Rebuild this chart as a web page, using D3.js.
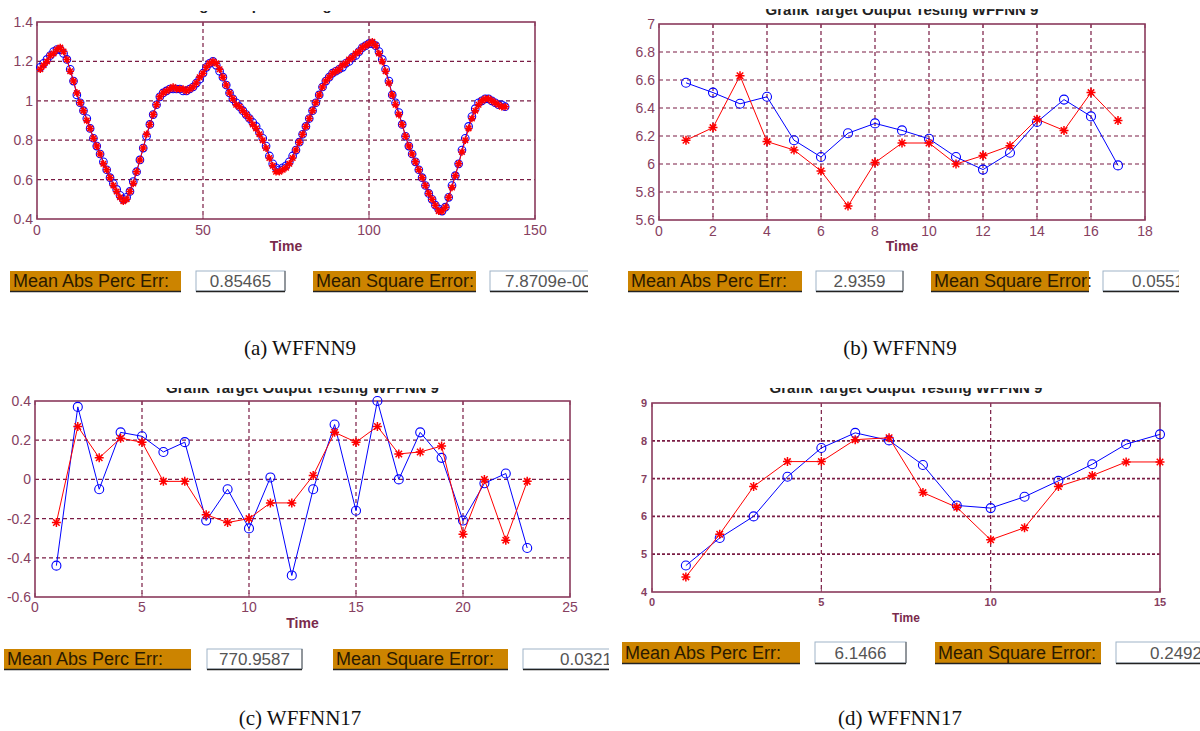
<!DOCTYPE html>
<html>
<head>
<meta charset="utf-8">
<script src="https://cdn.jsdelivr.net/npm/d3@7"></script>
<style>
  body { margin: 0; background: #fff; }
  svg { display: block; }
  .tick-label { font-family: "Liberation Sans", Arial, sans-serif; fill: #86405f; }
  .box-label { font-family: "Liberation Sans", Arial, sans-serif; fill: #2a1a00; }
  .caption { font-family: "Liberation Serif", "Times New Roman", serif; fill: #111; }
</style>
</head>
<body>
<div id="chart"></div>
<script>
// ---- data ----
// (a) WFFNN9, t = 1..141
var aTarget = [
  1.17,1.19,1.21,1.23,1.25,1.26,1.26,1.24,1.21,1.16,
  1.10,1.03,0.99,0.95,0.91,0.86,0.81,0.77,0.73,0.69,
  0.65,0.61,0.58,0.55,0.52,0.50,0.51,0.54,0.59,0.64,
  0.70,0.76,0.82,0.88,0.93,0.98,1.02,1.04,1.05,1.06,
  1.06,1.06,1.06,1.05,1.05,1.06,1.07,1.09,1.11,1.14,
  1.17,1.19,1.20,1.18,1.15,1.12,1.08,1.04,1.01,0.99,
  0.97,0.95,0.93,0.91,0.89,0.87,0.84,0.81,0.77,0.72,
  0.68,0.66,0.65,0.66,0.67,0.69,0.72,0.75,0.79,0.83,
  0.87,0.91,0.95,0.99,1.03,1.07,1.10,1.12,1.14,1.15,
  1.16,1.17,1.19,1.20,1.22,1.23,1.25,1.27,1.28,1.29,
  1.29,1.28,1.25,1.21,1.16,1.10,1.03,0.99,0.94,0.88,
  0.82,0.77,0.73,0.69,0.65,0.61,0.57,0.53,0.50,0.47,
  0.45,0.44,0.46,0.51,0.57,0.62,0.68,0.75,0.81,0.87,
  0.92,0.96,0.99,1.00,1.01,1.01,1.00,0.99,0.98,0.98,
  0.97
];
var aOutput = [
  1.16,1.18,1.20,1.23,1.24,1.26,1.27,1.25,1.21,1.15,
  1.10,1.04,0.99,0.95,0.90,0.86,0.81,0.77,0.73,0.68,
  0.65,0.61,0.57,0.54,0.51,0.49,0.50,0.54,0.58,0.64,
  0.70,0.76,0.83,0.88,0.93,0.98,1.02,1.04,1.05,1.06,
  1.07,1.06,1.06,1.06,1.05,1.06,1.07,1.09,1.12,1.14,
  1.17,1.19,1.20,1.19,1.16,1.12,1.08,1.04,1.01,0.98,
  0.97,0.95,0.93,0.91,0.88,0.86,0.83,0.80,0.76,0.71,
  0.67,0.64,0.64,0.65,0.66,0.68,0.71,0.75,0.79,0.83,
  0.87,0.91,0.95,0.99,1.03,1.07,1.10,1.12,1.14,1.15,
  1.16,1.18,1.19,1.21,1.22,1.24,1.25,1.27,1.28,1.29,
  1.30,1.28,1.24,1.20,1.15,1.09,1.03,0.98,0.93,0.88,
  0.82,0.77,0.73,0.69,0.65,0.61,0.57,0.53,0.50,0.47,
  0.44,0.44,0.46,0.51,0.56,0.62,0.68,0.74,0.80,0.86,
  0.91,0.95,0.98,1.00,1.01,1.01,1.00,0.99,0.98,0.97,
  0.97
];
var aXTicks = [0, 50, 100, 150];
var aYTicks = [0.4, 0.6, 0.8, 1, 1.2, 1.4];

// (b) WFFNN9, t = 1..17
var bTarget = [6.58,6.51,6.43,6.48,6.17,6.05,6.22,6.29,6.24,6.18,6.05,5.96,6.08,6.30,6.46,6.34,5.99];
var bOutput = [6.17,6.26,6.63,6.16,6.10,5.95,5.70,6.01,6.15,6.15,6.00,6.06,6.13,6.32,6.24,6.51,6.31];
var bXTicks = [0, 2, 4, 6, 8, 10, 12, 14, 16, 18];
var bYTicks = [5.6, 5.8, 6, 6.2, 6.4, 6.6, 6.8, 7];

// (c) WFFNN17, t = 1..23
var cTarget = [-0.44,0.37,-0.05,0.24,0.22,0.14,0.19,-0.21,-0.05,-0.25,0.01,-0.49,-0.05,0.28,-0.16,0.40,0.00,0.24,0.11,-0.21,-0.02,0.03,-0.35];
var cOutput = [-0.22,0.27,0.11,0.21,0.19,-0.01,-0.01,-0.18,-0.22,-0.20,-0.12,-0.12,0.02,0.24,0.19,0.27,0.13,0.14,0.17,-0.28,0.00,-0.31,-0.01];
var cXTicks = [0, 5, 10, 15, 20, 25];
var cYTicks = [-0.6, -0.4, -0.2, 0, 0.2, 0.4];

// (d) WFFNN17, t = 1..15
var dTarget = [4.70,5.43,6.00,7.05,7.81,8.21,8.01,7.36,6.29,6.22,6.52,6.94,7.38,7.91,8.17];
var dOutput = [4.40,5.53,6.79,7.45,7.45,8.03,8.08,6.63,6.24,5.38,5.70,6.79,7.08,7.44,7.44];
var dXTicks = [0, 5, 10, 15];
var dYTicks = [4, 5, 6, 7, 8, 9];

var captions = ["(a) WFFNN9", "(b) WFFNN9", "(c) WFFNN17", "(d) WFFNN17"];
var mapeValues = ["0.85465", "2.9359", "770.9587", "6.1466"];
var mseValues = ["7.8709e-006", "0.0551", "0.0321", "0.2492"];
var panelTitle = "Grafik Target Output Testing WFFNN 9";

// ---- drawing ----
var w = 1200, h = 731;
var frameColor = "#8a3a5c";
var gridColor = "#7a1c44";

var svg = d3.select("#chart").append("svg")
  .attr("width", w).attr("height", h);

var defs = svg.append("defs");

function starPath(s) {
  var d = s * 0.72;
  return "M" + (-s) + ",0L" + s + ",0M0," + (-s) + "L0," + s +
         "M" + (-d) + "," + (-d) + "L" + d + "," + d +
         "M" + (-d) + "," + d + "L" + d + "," + (-d);
}

function panel(o) {
  var xScale = d3.scaleLinear().domain(o.xDomain).range([o.left, o.right]);
  var yScale = d3.scaleLinear().domain(o.yDomain).range([o.bottom, o.top]);
  var g = svg.append("g");

  // title, cut off at the top like in the screenshot
  var cid = "clip" + o.id;
  defs.append("clipPath").attr("id", cid).append("rect")
    .attr("x", 0).attr("y", o.titleClip).attr("width", w).attr("height", 30);
  g.append("text")
    .attr("clip-path", "url(#" + cid + ")")
    .attr("x", (o.left + o.right) / 2 + o.titleShift)
    .attr("y", o.titleY)
    .attr("text-anchor", "middle")
    .attr("font-family", "Liberation Sans, Arial, sans-serif")
    .attr("font-weight", "bold")
    .attr("font-size", 15)
    .attr("fill", "#222")
    .text(panelTitle);

  // grid
  g.selectAll(".vgrid").data(o.xTicks.slice(1, -1)).enter().append("line")
    .attr("x1", function(d) { return xScale(d); })
    .attr("x2", function(d) { return xScale(d); })
    .attr("y1", o.top).attr("y2", o.bottom)
    .attr("stroke", gridColor).attr("stroke-width", 1.2)
    .attr("stroke-dasharray", o.vDash);
  g.selectAll(".hgrid").data(o.yTicks.slice(1, -1)).enter().append("line")
    .attr("y1", function(d) { return yScale(d); })
    .attr("y2", function(d) { return yScale(d); })
    .attr("x1", o.left).attr("x2", o.right)
    .attr("stroke", gridColor).attr("stroke-width", o.hWidth)
    .attr("stroke-dasharray", o.hDash);

  // frame + inward ticks
  g.append("rect")
    .attr("x", o.left).attr("y", o.top)
    .attr("width", o.right - o.left).attr("height", o.bottom - o.top)
    .attr("fill", "none").attr("stroke", frameColor).attr("stroke-width", 1.6);
  o.xTicks.forEach(function(t) {
    g.append("line").attr("x1", xScale(t)).attr("x2", xScale(t))
      .attr("y1", o.bottom).attr("y2", o.bottom - 4).attr("stroke", frameColor);
    g.append("line").attr("x1", xScale(t)).attr("x2", xScale(t))
      .attr("y1", o.top).attr("y2", o.top + 4).attr("stroke", frameColor);
  });

  // tick labels
  g.selectAll(".xl").data(o.xTicks).enter().append("text")
    .attr("class", "tick-label")
    .attr("x", function(d) { return xScale(d); })
    .attr("y", o.bottom + o.xLabelDy)
    .attr("text-anchor", "middle")
    .attr("font-size", o.tickSize)
    .attr("font-weight", o.tickWeight)
    .text(function(d) { return String(d); });
  g.selectAll(".yl").data(o.yTicks).enter().append("text")
    .attr("class", "tick-label")
    .attr("x", o.left - o.yLabelDx)
    .attr("y", function(d) { return yScale(d) + o.tickSize * 0.36; })
    .attr("text-anchor", "end")
    .attr("font-size", o.tickSize)
    .attr("font-weight", o.tickWeight)
    .text(function(d) { return String(d); });

  g.append("text")
    .attr("class", "tick-label")
    .attr("x", (o.left + o.right) / 2)
    .attr("y", o.timeY)
    .attr("text-anchor", "middle")
    .attr("font-size", o.timeSize)
    .attr("font-weight", "bold")
    .style("fill", "#7a2a4c")
    .text("Time");

  // series
  var target = o.target.map(function(v, i) { return { t: i + 1, v: v }; });
  var output = o.output.map(function(v, i) { return { t: i + 1, v: v }; });
  var line = d3.line()
    .x(function(d) { return xScale(d.t); })
    .y(function(d) { return yScale(d.v); });

  g.append("path").datum(target).attr("d", line)
    .attr("fill", "none").attr("stroke", "#0000ff").attr("stroke-width", 1);
  g.selectAll(".circ").data(target).enter().append("circle")
    .attr("cx", function(d) { return xScale(d.t); })
    .attr("cy", function(d) { return yScale(d.v); })
    .attr("r", o.markR)
    .attr("fill", "none").attr("stroke", "#0000ff").attr("stroke-width", 1.1);

  g.append("path").datum(output).attr("d", line)
    .attr("fill", "none").attr("stroke", "#ff0000").attr("stroke-width", 1);
  g.selectAll(".star").data(output).enter().append("path")
    .attr("transform", function(d) { return "translate(" + xScale(d.t) + "," + yScale(d.v) + ")"; })
    .attr("d", starPath(o.markR))
    .attr("fill", "none").attr("stroke", "#ff0000").attr("stroke-width", 1.5);

  // error boxes
  var bx = o.boxes;
  var clipBox = "boxclip" + o.id;
  defs.append("clipPath").attr("id", clipBox).append("rect")
    .attr("x", 0).attr("y", 0).attr("width", o.boxClipX).attr("height", h);
  var bg = g.append("g").attr("clip-path", "url(#" + clipBox + ")");

  function orangeBox(x0, x1, label) {
    bg.append("rect").attr("x", x0).attr("y", bx.y).attr("width", x1 - x0).attr("height", bx.h)
      .attr("fill", "#cc8400");
    bg.append("line").attr("x1", x0).attr("x2", x1).attr("y1", bx.y + bx.h + 0.5).attr("y2", bx.y + bx.h + 0.5)
      .attr("stroke", "#222").attr("stroke-width", 1.5);
    bg.append("text").attr("class", "box-label")
      .attr("x", x0 + 3).attr("y", bx.y + bx.h - 4)
      .attr("font-size", 18).text(label);
  }
  function whiteBox(x0, x1, value, anchor) {
    bg.append("rect").attr("x", x0).attr("y", bx.y).attr("width", x1 - x0).attr("height", bx.h)
      .attr("fill", "#fff").attr("stroke", "#9fb4c8").attr("stroke-width", 1);
    bg.append("line").attr("x1", x0).attr("x2", x1).attr("y1", bx.y + bx.h + 0.5).attr("y2", bx.y + bx.h + 0.5)
      .attr("stroke", "#222").attr("stroke-width", 1.5);
    bg.append("line").attr("x1", x1).attr("x2", x1).attr("y1", bx.y).attr("y2", bx.y + bx.h)
      .attr("stroke", "#555").attr("stroke-width", 1);
    bg.append("text").attr("class", "box-label")
      .attr("x", anchor === "middle" ? (x0 + x1) / 2 : x0 + o.mseDx)
      .attr("y", bx.y + bx.h - 4)
      .attr("text-anchor", anchor)
      .attr("font-size", 17).style("fill", "#555").text(value);
  }
  orangeBox(bx.o1[0], bx.o1[1], "Mean Abs Perc Err:");
  whiteBox(bx.w1[0], bx.w1[1], o.mape, "middle");
  orangeBox(bx.o2[0], bx.o2[1], "Mean Square Error:");
  whiteBox(bx.w2[0], bx.w2[1], o.mse, "start");

  g.append("text").attr("class", "caption")
    .attr("x", o.captionX).attr("y", o.captionY)
    .attr("text-anchor", "middle")
    .attr("font-size", 21)
    .text(o.caption);
}

panel({
  id: "a", left: 37, right: 535, top: 22, bottom: 219,
  xDomain: [0, 150], yDomain: [0.4, 1.4], xTicks: aXTicks, yTicks: aYTicks,
  target: aTarget, output: aOutput, markR: 3.8,
  vDash: "4,3", hDash: "4,3", hWidth: 1.2,
  tickSize: 14, tickWeight: "normal", xLabelDy: 16, yLabelDx: 4, timeY: 251, timeSize: 14,
  titleClip: 11, titleY: 10, titleShift: -20,
  boxes: { y: 271, h: 20, o1: [10, 181], w1: [196, 285], o2: [313, 476], w2: [490, 600] },
  boxClipX: 588, mseDx: 15,
  mape: mapeValues[0], mse: mseValues[0],
  caption: captions[0], captionX: 300, captionY: 355
});

panel({
  id: "b", left: 659, right: 1145, top: 24, bottom: 220,
  xDomain: [0, 18], yDomain: [5.6, 7], xTicks: bXTicks, yTicks: bYTicks,
  target: bTarget, output: bOutput, markR: 4.5,
  vDash: "4,3", hDash: "4,3", hWidth: 1.2,
  tickSize: 14, tickWeight: "normal", xLabelDy: 16, yLabelDx: 4, timeY: 251, timeSize: 14,
  titleClip: 9, titleY: 15, titleShift: 0,
  boxes: { y: 271, h: 20, o1: [628, 802], w1: [816, 903], o2: [931, 1089], w2: [1103, 1200] },
  boxClipX: 1179, mseDx: 29,
  mape: mapeValues[1], mse: mseValues[1],
  caption: captions[1], captionX: 900, captionY: 355
});

panel({
  id: "c", left: 35, right: 570, top: 401, bottom: 597,
  xDomain: [0, 25], yDomain: [-0.6, 0.4], xTicks: cXTicks, yTicks: cYTicks,
  target: cTarget, output: cOutput, markR: 4.5,
  vDash: "4,3", hDash: "4,3", hWidth: 1.2,
  tickSize: 14, tickWeight: "normal", xLabelDy: 15, yLabelDx: 4, timeY: 628, timeSize: 14,
  titleClip: 388, titleY: 393, titleShift: 0,
  boxes: { y: 649, h: 20, o1: [4, 191], w1: [207, 302], o2: [333, 508], w2: [523, 620] },
  boxClipX: 609, mseDx: 37,
  mape: mapeValues[2], mse: mseValues[2],
  caption: captions[2], captionX: 300, captionY: 725
});

panel({
  id: "d", left: 652, right: 1160, top: 403, bottom: 592,
  xDomain: [0, 15], yDomain: [4, 9], xTicks: dXTicks, yTicks: dYTicks,
  target: dTarget, output: dOutput, markR: 4.5,
  vDash: "4,3", hDash: "3,2", hWidth: 1.8,
  tickSize: 11, tickWeight: "bold", xLabelDy: 14, yLabelDx: 5, timeY: 622, timeSize: 12,
  titleClip: 388, titleY: 393, titleShift: 0,
  boxes: { y: 642, h: 21, o1: [622, 800], w1: [815, 906], o2: [935, 1101], w2: [1116, 1210] },
  boxClipX: 1200, mseDx: 34,
  mape: mapeValues[3], mse: mseValues[3],
  caption: captions[3], captionX: 900, captionY: 725
});
</script>
</body>
</html>
